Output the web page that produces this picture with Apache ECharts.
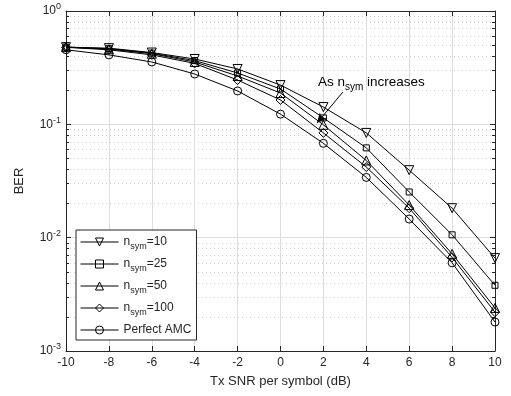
<!DOCTYPE html>
<html><head><meta charset="utf-8">
<script src="https://cdn.jsdelivr.net/npm/echarts@6/dist/echarts.min.js"></script>
<style>html,body{margin:0;padding:0;background:#fff}#c{width:511px;height:396px}</style>
</head><body><div id="c"></div>
<script>
const snr = [-10, -8, -6, -4, -2, 0, 2, 4, 6, 8, 10];
const ber10 = [0.48, 0.47, 0.43, 0.377, 0.308, 0.222, 0.142, 0.084, 0.0394, 0.0182, 0.0066];
const ber25 = [0.48, 0.465, 0.425, 0.365, 0.284, 0.205, 0.114, 0.062, 0.0253, 0.0106, 0.0038];
const ber50 = [0.48, 0.46, 0.42, 0.355, 0.267, 0.189, 0.099, 0.048, 0.0194, 0.0072, 0.0024];
const ber100 = [0.478, 0.455, 0.41, 0.345, 0.246, 0.164, 0.084, 0.042, 0.0182, 0.0067, 0.0022];
const berPerfect = [0.455, 0.41, 0.355, 0.278, 0.197, 0.123, 0.068, 0.034, 0.0146, 0.0060, 0.0018];
const seriesNames = ['n_sym=10', 'n_sym=25', 'n_sym=50', 'n_sym=100', 'Perfect AMC'];
const xTicks = [-10, -8, -6, -4, -2, 0, 2, 4, 6, 8, 10];
const yMajorTicks = [0.001, 0.01, 0.1, 1];
const yMinorTicks = [0.002, 0.003, 0.004, 0.005, 0.006, 0.007, 0.008, 0.009,
                     0.02, 0.03, 0.04, 0.05, 0.06, 0.07, 0.08, 0.09,
                     0.2, 0.3, 0.4, 0.5, 0.6, 0.7, 0.8, 0.9];
const arrowFrom = [2.91, 0.193];
const arrowTo = [1.70, 0.1025];

const FONT = 'Liberation Sans, Arial, sans-serif';
const TXT = '#262626';
function pairs(ys) { return snr.map((x, i) => [x, ys[i]]); }
const symbols = [
  {symbol: 'triangle', rot: 180, size: 9},
  {symbol: 'rect', rot: 0, size: 6},
  {symbol: 'triangle', rot: 0, size: 9},
  {symbol: 'diamond', rot: 0, size: 9},
  {symbol: 'circle', rot: 0, size: 8}
];
const datas = [ber10, ber25, ber50, ber100, berPerfect];
const series = datas.map((d, i) => ({
  name: seriesNames[i],
  type: 'line',
  data: pairs(d),
  xAxisIndex: 0, yAxisIndex: 0,
  symbol: symbols[i].symbol,
  symbolRotate: symbols[i].rot,
  symbolSize: symbols[i].size,
  showAllSymbol: true,
  color: '#000',
  lineStyle: {color: '#000', width: 1},
  itemStyle: {color: 'rgba(255,255,255,0)', borderColor: '#000', borderWidth: 1},
  emphasis: {disabled: true},
  animation: false,
  z: 5
}));
series[0].markLine = {
  silent: true,
  symbol: ['none', 'arrow'],
  symbolSize: [7, 10],
  lineStyle: {color: '#000', width: 1, type: 'solid'},
  label: {show: false},
  animation: false,
  data: [[{coord: arrowFrom}, {coord: arrowTo}]]
};

function minorAxis(pos, withGrid) {
  return {
    type: 'log', logBase: 10, min: 0.001, max: 1, position: pos,
    axisLine: {show: false, onZero: false},
    axisTick: {show: true, inside: true, length: 3, customValues: yMinorTicks, lineStyle: {color: TXT}},
    axisLabel: {show: false},
    splitLine: {show: withGrid, lineStyle: {color: '#cfcfcf', width: 1, type: [1, 3]}}
  };
}

const chart = echarts.init(document.getElementById('c'), null, {renderer: 'canvas'});
chart.setOption({
  animation: false,
  backgroundColor: '#fff',
  grid: {left: 66, right: 16, top: 11, bottom: 45},
  legend: {
    orient: 'vertical', left: 76, top: 230,
    backgroundColor: '#fff', borderColor: '#262626', borderWidth: 1,
    padding: [6, 5, 4, 4], itemGap: 7, itemWidth: 38, itemHeight: 10,
    lineStyle: {width: 1, color: '#000'},
    itemStyle: {borderWidth: 1, borderColor: '#000', color: 'rgba(255,255,255,0)'},
    textStyle: {fontFamily: FONT, fontSize: 12, color: TXT,
      rich: {n: {fontFamily: FONT, fontSize: 12, color: TXT},
             s: {fontFamily: FONT, fontSize: 9, color: TXT, padding: [9, 0, 0, 0]}}},
    formatter: function (name) {
      if (name.indexOf('n_sym') === 0) return '{n|n}{s|sym}{n|' + name.slice(5) + '}';
      return name;
    },
    data: seriesNames.map(n => ({name: n}))
  },
  xAxis: [{
    type: 'value', min: -10, max: 10, interval: 2,
    name: 'Tx SNR per symbol (dB)', nameLocation: 'middle', nameGap: 24,
    nameTextStyle: {fontFamily: FONT, fontSize: 13, color: TXT},
    axisLine: {show: true, onZero: false, lineStyle: {color: TXT, width: 1}},
    axisTick: {show: true, inside: true, length: 5, lineStyle: {color: TXT}},
    axisLabel: {fontFamily: FONT, fontSize: 12, color: TXT, margin: 6},
    splitLine: {show: true, lineStyle: {color: '#dcdcdc', width: 1}}
  }, {
    type: 'value', min: -10, max: 10, interval: 2, position: 'top',
    axisLine: {show: true, onZero: false, lineStyle: {color: TXT, width: 1}},
    axisTick: {show: true, inside: true, length: 5, lineStyle: {color: TXT}},
    axisLabel: {show: false}, splitLine: {show: false}
  }],
  yAxis: [{
    type: 'log', logBase: 10, min: 0.001, max: 1,
    name: 'BER', nameLocation: 'middle', nameGap: 40,
    nameTextStyle: {fontFamily: FONT, fontSize: 13, color: TXT},
    axisLine: {show: true, onZero: false, lineStyle: {color: TXT, width: 1}},
    axisTick: {show: true, inside: true, length: 5, customValues: yMajorTicks, lineStyle: {color: TXT}},
    axisLabel: {fontFamily: FONT, fontSize: 12, color: TXT, margin: 5, customValues: yMajorTicks,
      formatter: function (v) { return '{b|10}{e|' + Math.round(Math.log10(v)) + '}'; },
      rich: {b: {fontFamily: FONT, fontSize: 12, color: TXT},
             e: {fontFamily: FONT, fontSize: 9, color: TXT, padding: [0, 0, 8, 0]}}},
    splitLine: {show: true, lineStyle: {color: '#dcdcdc', width: 1}}
  }, {
    type: 'log', logBase: 10, min: 0.001, max: 1, position: 'right',
    axisLine: {show: true, onZero: false, lineStyle: {color: TXT, width: 1}},
    axisTick: {show: true, inside: true, length: 5, customValues: yMajorTicks, lineStyle: {color: TXT}},
    axisLabel: {show: false}, splitLine: {show: false}
  }, minorAxis('left', true), minorAxis('right', false)],
  graphic: [{
    type: 'text', left: 318, top: 75, z: 100,
    style: {
      text: '{n|As n}{s|sym}{n| increases}',
      rich: {n: {fontFamily: FONT, fontSize: 13.5, fill: '#000'},
             s: {fontFamily: FONT, fontSize: 10, fill: '#000', padding: [10, 0, 0, 0]}}
    }
  }],
  series: series
});
</script></body></html>
